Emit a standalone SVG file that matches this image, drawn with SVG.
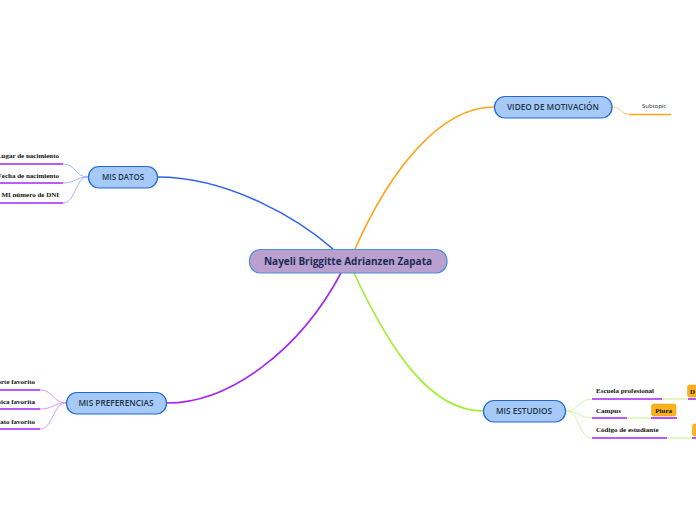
<svg xmlns="http://www.w3.org/2000/svg" width="696" height="520" viewBox="0 0 696 520">
<style>
.main{fill:#b9a0cf;stroke:#4a8fd8;stroke-width:1.2}
.sub{fill:#a7c9f7;stroke:#1e6ad6;stroke-width:1.2}
.tm{font-family:"Open Sans","Noto Sans",sans-serif;font-weight:bold;fill:#1b2d55;text-anchor:middle}
.ts{font-family:"Open Sans","Noto Sans",sans-serif;font-weight:600;fill:#17364a;text-anchor:middle;font-size:8px}
.leaf{font-family:"Liberation Serif","DejaVu Serif",serif;font-weight:bold;font-size:7px;fill:#111}
.tag{fill:#f9b11c;stroke:#f3a510;stroke-width:0.6}
.c{fill:none}
</style>
<rect width="696" height="520" fill="#ffffff"/>
<g id="connectors">
<path class="c" d="M333,249 C300,220 230,177 157,177" stroke="#2d62f5" stroke-width="1.6"/>
<path class="c" d="M355,249 C390,170 440,107 494,107" stroke="#ffa51c" stroke-width="1.6"/>
<path class="c" d="M341,273 C300,350 230,403 167,403" stroke="#a426f5" stroke-width="1.6"/>
<path class="c" d="M354,273 C390,350 430,411 483,411" stroke="#9af02a" stroke-width="1.6"/>
<path class="c" d="M612,107 C622,107 620,114 629,114" stroke="#ffc870" stroke-width="1"/>
<path class="c" d="M88,177 C75,177 76,164 63,164" stroke="#9fb5fb" stroke-width="1"/>
<path class="c" d="M88,177 C75,177 76,183 63,183" stroke="#9fb5fb" stroke-width="1"/>
<path class="c" d="M88,177 C75,177 76,203 63,203" stroke="#9fb5fb" stroke-width="1"/>
<path class="c" d="M66,403 C53,403 53,390 40,390" stroke="#d79cfb" stroke-width="1"/>
<path class="c" d="M66,403 C53,403 53,409 40,409" stroke="#d79cfb" stroke-width="1"/>
<path class="c" d="M66,403 C53,403 53,429 40,429" stroke="#d79cfb" stroke-width="1"/>
<path class="c" d="M566,411 C579,411 579,399 592,399" stroke="#cff5a0" stroke-width="1"/>
<path class="c" d="M566,411 C579,411 579,418 592,418" stroke="#cff5a0" stroke-width="1"/>
<path class="c" d="M566,411 C579,411 579,438 592,438" stroke="#cff5a0" stroke-width="1"/>
</g>
<g id="central">
<rect class="main" x="249.5" y="249.5" width="197.5" height="23.5" rx="11"/>
<text class="tm" x="348" y="265" font-size="10.5" textLength="168" lengthAdjust="spacingAndGlyphs">Nayeli Briggitte Adrianzen Zapata</text>
</g>
<g id="mis-datos">
<rect class="sub" x="88.5" y="166.5" width="69" height="21.5" rx="10.5"/>
<text class="ts" x="123" y="180" textLength="42" lengthAdjust="spacingAndGlyphs">MIS DATOS</text>
</g>
<g id="video">
<rect class="sub" x="494.5" y="96.5" width="117.5" height="21.5" rx="10.5"/>
<text class="ts" x="553" y="110" textLength="92" lengthAdjust="spacingAndGlyphs">VIDEO DE MOTIVACIÓN</text>
</g>
<g id="mis-preferencias">
<rect class="sub" x="66.5" y="392.5" width="100" height="21.5" rx="10.5"/>
<text class="ts" x="116" y="406" textLength="75" lengthAdjust="spacingAndGlyphs">MIS PREFERENCIAS</text>
</g>
<g id="mis-estudios">
<rect class="sub" x="483.5" y="400.5" width="82" height="21.5" rx="10.5"/>
<text class="ts" x="524" y="414" textLength="56" lengthAdjust="spacingAndGlyphs">MIS ESTUDIOS</text>
</g>
<g id="subtopic">
<text x="642" y="108" font-family="'Open Sans','Noto Sans',sans-serif" font-size="6" fill="#222">Subtopic</text>
<line x1="629" y1="114.5" x2="671" y2="114.5" stroke="#ffa51c" stroke-width="1.6"/>
</g>
<g id="lugar">
<text class="leaf" x="59" y="158" text-anchor="end">Lugar de nacimiento</text>
<line x1="-10" y1="164" x2="63" y2="164" stroke="#a426f5" stroke-width="1.6"/>
</g>
<g id="fecha">
<text class="leaf" x="59" y="178" text-anchor="end">Fecha de nacimiento</text>
<line x1="-10" y1="183" x2="63" y2="183" stroke="#a426f5" stroke-width="1.6"/>
</g>
<g id="dni">
<text class="leaf" x="59" y="197" text-anchor="end">MI número de DNI</text>
<line x1="-10" y1="203" x2="63" y2="203" stroke="#a426f5" stroke-width="1.6"/>
</g>
<g id="deporte">
<text class="leaf" x="35" y="384" text-anchor="end">Deporte favorito</text>
<line x1="-10" y1="390" x2="40" y2="390" stroke="#a426f5" stroke-width="1.6"/>
</g>
<g id="musica">
<text class="leaf" x="35" y="404" text-anchor="end">Música favorita</text>
<line x1="-10" y1="409" x2="40" y2="409" stroke="#a426f5" stroke-width="1.6"/>
</g>
<g id="plato">
<text class="leaf" x="35" y="424" text-anchor="end">Plato favorito</text>
<line x1="-10" y1="429" x2="40" y2="429" stroke="#a426f5" stroke-width="1.6"/>
</g>
<g id="escuela">
<text class="leaf" x="596" y="393">Escuela profesional</text>
<line x1="592" y1="399" x2="662" y2="399" stroke="#a426f5" stroke-width="1.6"/>
<line x1="662" y1="399" x2="688" y2="399" stroke="#d8f7b0" stroke-width="1.6"/>
<rect class="tag" x="687.5" y="385" width="30" height="12" rx="2"/>
<text class="leaf" x="690" y="394">D</text>
<line x1="688" y1="399" x2="720" y2="399" stroke="#a426f5" stroke-width="1.6"/>
</g>
<g id="campus">
<text class="leaf" x="596" y="413">Campus</text>
<line x1="592" y1="418" x2="627" y2="418" stroke="#a426f5" stroke-width="1.6"/>
<line x1="627" y1="418" x2="651" y2="418" stroke="#d8f7b0" stroke-width="1.6"/>
<rect class="tag" x="651.5" y="404" width="24.5" height="12" rx="2"/>
<text class="leaf" x="663.7" y="413" text-anchor="middle">Piura</text>
<line x1="651" y1="418" x2="677" y2="418" stroke="#a426f5" stroke-width="1.6"/>
</g>
<g id="codigo">
<text class="leaf" x="596" y="432">Código de estudiante</text>
<line x1="592" y1="438" x2="667" y2="438" stroke="#a426f5" stroke-width="1.6"/>
<line x1="667" y1="438" x2="692" y2="438" stroke="#d8f7b0" stroke-width="1.6"/>
<rect class="tag" x="692.5" y="424" width="30" height="12" rx="2"/>
<line x1="692" y1="438" x2="720" y2="438" stroke="#a426f5" stroke-width="1.6"/>
</g>
</svg>
